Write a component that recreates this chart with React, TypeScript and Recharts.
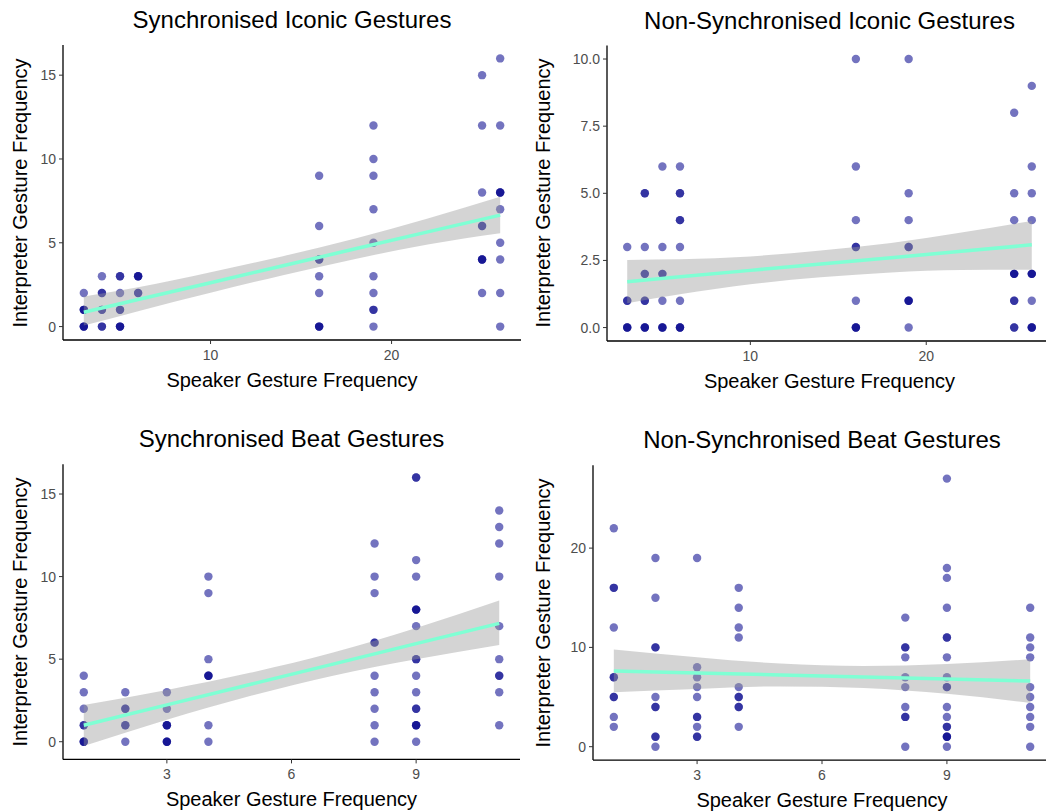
import React from 'react'
import { ComposedChart, Scatter, Area, Line, XAxis, YAxis } from 'recharts'

// ─── Data ─────────────────────────────────────────────────────────────────────
// [speaker frequency, interpreter frequency]; repeated pairs are overlapping points

const syncIconicPoints = [
  [3, 2], [3, 1], [3, 1], [3, 1], [3, 0], [3, 0], [3, 0],
  [4, 3], [4, 2], [4, 2], [4, 1], [4, 1], [4, 0], [4, 0],
  [5, 3], [5, 3], [5, 2], [5, 1], [5, 1], [5, 0], [5, 0], [5, 0],
  [6, 3], [6, 3], [6, 3], [6, 2], [6, 2],
  [16, 9], [16, 6], [16, 4], [16, 4], [16, 3], [16, 2], [16, 0], [16, 0], [16, 0],
  [19, 12], [19, 10], [19, 9], [19, 7], [19, 5], [19, 3], [19, 2], [19, 1], [19, 1], [19, 0],
  [25, 15], [25, 12], [25, 8], [25, 6], [25, 6], [25, 4], [25, 4], [25, 4], [25, 2],
  [26, 16], [26, 12], [26, 8], [26, 8], [26, 8], [26, 7], [26, 5], [26, 4], [26, 2], [26, 0],
]

const nonSyncIconicPoints = [
  [3, 3], [3, 1], [3, 1], [3, 0], [3, 0], [3, 0],
  [4, 5], [4, 5], [4, 3], [4, 2], [4, 2], [4, 1], [4, 1], [4, 0], [4, 0], [4, 0],
  [5, 6], [5, 3], [5, 2], [5, 2], [5, 1], [5, 0], [5, 0], [5, 0],
  [6, 6], [6, 5], [6, 5], [6, 4], [6, 4], [6, 3], [6, 1], [6, 0], [6, 0], [6, 0],
  [16, 10], [16, 6], [16, 4], [16, 3], [16, 3], [16, 1], [16, 0], [16, 0], [16, 0],
  [19, 10], [19, 5], [19, 4], [19, 3], [19, 3], [19, 1], [19, 1], [19, 1], [19, 0],
  [25, 8], [25, 5], [25, 4], [25, 2], [25, 2], [25, 2], [25, 1], [25, 1], [25, 0], [25, 0],
  [26, 9], [26, 6], [26, 5], [26, 4], [26, 2], [26, 2], [26, 2], [26, 1], [26, 0], [26, 0], [26, 0],
]

const syncBeatPoints = [
  [1, 4], [1, 3], [1, 2], [1, 1], [1, 1], [1, 0], [1, 0], [1, 0],
  [2, 3], [2, 2], [2, 2], [2, 1], [2, 1], [2, 0],
  [3, 3], [3, 2], [3, 1], [3, 1], [3, 1], [3, 0], [3, 0], [3, 0],
  [4, 10], [4, 9], [4, 5], [4, 4], [4, 4], [4, 4], [4, 1], [4, 0],
  [8, 12], [8, 10], [8, 9], [8, 6], [8, 6], [8, 4], [8, 3], [8, 2], [8, 1], [8, 0],
  [9, 16], [9, 16], [9, 11], [9, 10], [9, 8], [9, 8], [9, 8], [9, 7], [9, 5], [9, 5],
  [9, 4], [9, 3], [9, 2], [9, 2], [9, 1], [9, 1], [9, 1], [9, 0],
  [11, 14], [11, 13], [11, 12], [11, 10], [11, 7], [11, 5], [11, 4], [11, 4], [11, 3], [11, 1],
]

const nonSyncBeatPoints = [
  [1, 22], [1, 16], [1, 16], [1, 12], [1, 7], [1, 7], [1, 5], [1, 5], [1, 3], [1, 2],
  [2, 19], [2, 15], [2, 10], [2, 10], [2, 5], [2, 4], [2, 4], [2, 1], [2, 1], [2, 0],
  [3, 19], [3, 8], [3, 7], [3, 6], [3, 5], [3, 3], [3, 3], [3, 2], [3, 1], [3, 1],
  [4, 16], [4, 14], [4, 12], [4, 11], [4, 6], [4, 5], [4, 5], [4, 4], [4, 4], [4, 2],
  [8, 13], [8, 10], [8, 10], [8, 9], [8, 7], [8, 6], [8, 4], [8, 3], [8, 3], [8, 0],
  [9, 27], [9, 18], [9, 17], [9, 14], [9, 11], [9, 11], [9, 9], [9, 7], [9, 6], [9, 6],
  [9, 4], [9, 3], [9, 2], [9, 2], [9, 1], [9, 1], [9, 1], [9, 0],
  [11, 14], [11, 11], [11, 10], [11, 9], [11, 6], [11, 5], [11, 4], [11, 3], [11, 2], [11, 0],
]

// fitted line and confidence band, read at a few speaker frequencies
const syncIconicFitX = [3, 6, 10, 14, 18, 22, 26]
const syncIconicFit = [0.86, 1.62, 2.62, 3.63, 4.64, 5.65, 6.65]
const syncIconicLo = [0.06, 0.92, 2.02, 3.07, 4.04, 4.9, 5.57]
const syncIconicHi = [1.8, 2.34, 3.24, 4.2, 5.26, 6.45, 7.75]

const nonSyncIconicFitX = [3, 6, 10, 14, 18, 22, 26]
const nonSyncIconicFit = [1.71, 1.89, 2.13, 2.37, 2.6, 2.84, 3.08]
const nonSyncIconicLo = [0.91, 1.24, 1.61, 1.87, 2.05, 2.14, 2.15]
const nonSyncIconicHi = [2.52, 2.54, 2.65, 2.87, 3.15, 3.54, 3.97]

const syncBeatFitX = [1, 3, 5, 7, 9, 11]
const syncBeatFit = [1.0, 2.23, 3.47, 4.7, 5.94, 7.17]
const syncBeatLo = [-0.26, 1.33, 2.77, 4.0, 4.99, 5.86]
const syncBeatHi = [2.22, 3.13, 4.17, 5.4, 6.89, 8.55]

const nonSyncBeatFitX = [1, 3, 5, 7, 9, 11]
const nonSyncBeatFit = [7.62, 7.42, 7.22, 7.02, 6.82, 6.62]
const nonSyncBeatLo = [5.48, 5.82, 6.07, 5.92, 5.32, 4.4]
const nonSyncBeatHi = [9.8, 9.02, 8.37, 8.12, 8.32, 8.8]

const iconicXTicks = [10, 20]
const beatXTicks = [3, 6, 9]
const syncYTicks = [0, 5, 10, 15]
const nonSyncIconicYTicks = [0, 2.5, 5, 7.5, 10]
const nonSyncBeatYTicks = [0, 10, 20]

// ─── Styling ──────────────────────────────────────────────────────────────────

const FONT = '"Liberation Sans", Arial, Helvetica, sans-serif'
const POINT = '#00008B'
const FIT = '#7FFFD4'

type Box = { left: number; top: number; right: number; bottom: number }

interface PanelProps {
  title: string
  points: number[][]
  fitX: number[]
  fit: number[]
  lo: number[]
  hi: number[]
  xDomain: [number, number]
  yDomain: [number, number]
  xTicks: number[]
  yTicks: number[]
  yFmt?: (v: number) => string
  origin: [number, number]
  size: [number, number]
  box: Box
}

const Dot = (props: any) => (
  <circle cx={props.cx} cy={props.cy} r={4.2} fill={POINT} fillOpacity={0.55} />
)

function Panel(p: PanelProps) {
  const [ox, oy] = p.origin
  const [w, h] = p.size
  const pts = p.points.map(([x, y]) => ({ x, y }))
  const rows = p.fitX.map((x, i) => ({ x, fit: p.fit[i], band: [p.lo[i], p.hi[i]] }))
  const yAxisW = p.box.left - ox
  const top = p.box.top - oy
  const xAxisH = h - (p.box.bottom - oy)
  const right = w - (p.box.right - ox)
  const cx = (p.box.left + p.box.right) / 2
  const cy = (p.box.top + p.box.bottom) / 2

  return (
    <>
      <div style={{ position: 'absolute', left: ox, top: oy }}>
        <ComposedChart width={w} height={h} data={rows} margin={{ top, right, bottom: 0, left: 0 }}>
          <XAxis
            type="number"
            dataKey="x"
            domain={p.xDomain}
            allowDataOverflow
            ticks={p.xTicks}
            interval={0}
            height={xAxisH}
            tickSize={4}
            tickMargin={6}
            axisLine={{ stroke: '#000', strokeWidth: 1.3 }}
            tickLine={{ stroke: '#333' }}
            tick={{ fill: '#4D4D4D', fontSize: 14, fontFamily: FONT }}
          />
          <YAxis
            type="number"
            domain={p.yDomain}
            allowDataOverflow
            ticks={p.yTicks}
            interval={0}
            width={yAxisW}
            tickSize={4}
            tickMargin={3}
            tickFormatter={p.yFmt}
            axisLine={{ stroke: '#000', strokeWidth: 1.3 }}
            tickLine={{ stroke: '#333' }}
            tick={{ fill: '#4D4D4D', fontSize: 14, fontFamily: FONT }}
          />
          <Scatter data={pts} dataKey="y" shape={Dot} isAnimationActive={false} zIndex={50} />
          <Area
            dataKey="band"
            type="monotone"
            stroke="none"
            fill="#999999"
            fillOpacity={0.42}
            isAnimationActive={false}
            activeDot={false}
          />
          <Line dataKey="fit" type="linear" stroke={FIT} strokeWidth={3.5} dot={false} isAnimationActive={false} />
        </ComposedChart>
      </div>
      <div
        style={{
          position: 'absolute', left: cx, top: p.box.top - 25, transform: 'translate(-50%, -50%)',
          fontSize: 24, whiteSpace: 'nowrap', color: '#000', lineHeight: 1,
        }}
      >
        {p.title}
      </div>
      <div
        style={{
          position: 'absolute', left: cx, top: p.box.bottom + 40, transform: 'translate(-50%, -50%)',
          fontSize: 20, whiteSpace: 'nowrap', color: '#000', lineHeight: 1,
        }}
      >
        Speaker Gesture Frequency
      </div>
      <div
        style={{
          position: 'absolute', left: ox + 20, top: cy, transform: 'translate(-50%, -50%) rotate(-90deg)',
          fontSize: 20, whiteSpace: 'nowrap', color: '#000', lineHeight: 1,
        }}
      >
        Interpreter Gesture Frequency
      </div>
    </>
  )
}

export default function App() {
  return (
    <div
      style={{
        position: 'absolute', left: 0, top: 0, width: 1046, height: 811,
        overflow: 'hidden', background: '#fff', fontFamily: FONT,
      }}
    >
      <Panel
        title="Synchronised Iconic Gestures"
        points={syncIconicPoints}
        fitX={syncIconicFitX} fit={syncIconicFit} lo={syncIconicLo} hi={syncIconicHi}
        xDomain={[1.85, 27.15]} yDomain={[-0.8, 16.8]}
        xTicks={iconicXTicks} yTicks={syncYTicks}
        origin={[0, 0]} size={[525, 405]}
        box={{ left: 63, top: 45, right: 521, bottom: 340 }}
      />
      <Panel
        title="Non-Synchronised Iconic Gestures"
        points={nonSyncIconicPoints}
        fitX={nonSyncIconicFitX} fit={nonSyncIconicFit} lo={nonSyncIconicLo} hi={nonSyncIconicHi}
        xDomain={[1.85, 27.15]} yDomain={[-0.5, 10.5]}
        xTicks={iconicXTicks} yTicks={nonSyncIconicYTicks}
        yFmt={(v: number) => v.toFixed(1)}
        origin={[523, 0]} size={[531, 405]}
        box={{ left: 607, top: 45.6, right: 1052, bottom: 341 }}
      />
      <Panel
        title="Synchronised Beat Gestures"
        points={syncBeatPoints}
        fitX={syncBeatFitX} fit={syncBeatFit} lo={syncBeatLo} hi={syncBeatHi}
        xDomain={[0.5, 11.5]} yDomain={[-1.07, 16.8]}
        xTicks={beatXTicks} yTicks={syncYTicks}
        origin={[0, 405]} size={[525, 406]}
        box={{ left: 63, top: 464.3, right: 520, bottom: 759.4 }}
      />
      <Panel
        title="Non-Synchronised Beat Gestures"
        points={nonSyncBeatPoints}
        fitX={nonSyncBeatFitX} fit={nonSyncBeatFit} lo={nonSyncBeatLo} hi={nonSyncBeatHi}
        xDomain={[0.5, 11.5]} yDomain={[-1.35, 28.35]}
        xTicks={beatXTicks} yTicks={nonSyncBeatYTicks}
        origin={[523, 405]} size={[531, 406]}
        box={{ left: 593, top: 465.2, right: 1051, bottom: 760.1 }}
      />
    </div>
  )
}
